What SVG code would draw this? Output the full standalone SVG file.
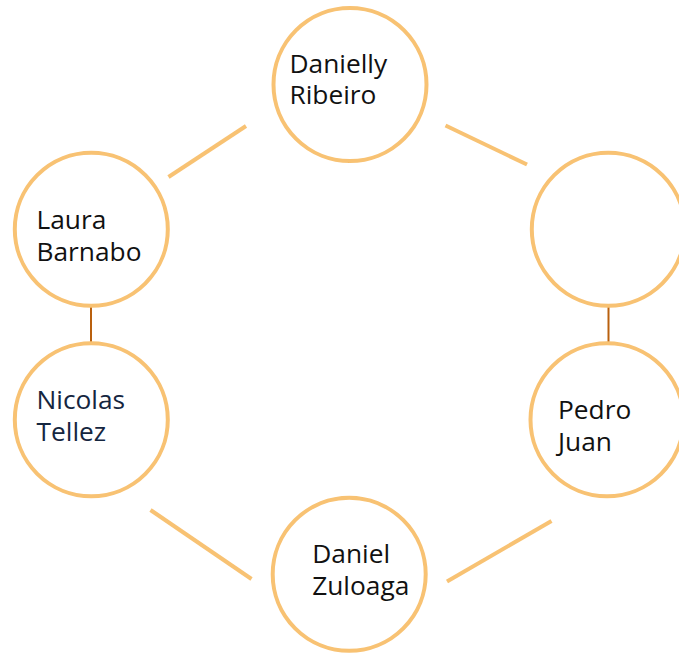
<svg xmlns="http://www.w3.org/2000/svg" width="679" height="654" viewBox="0 0 679 654">
<style>
.node{fill:#ffffff;stroke:#f8c273;stroke-width:4}
.lbl{font-family:"Open Sans","Noto Sans","Liberation Sans",sans-serif;font-size:26.3px;fill:#111111}
.navy{fill:#15263f}
.edge{stroke:#f8c273;stroke-width:4;fill:none}
.link{stroke:#b9600e;stroke-width:2;fill:none}
</style>
<rect width="679" height="654" fill="#ffffff"/>
<g id="connectors">
<line class="edge" x1="246" y1="126" x2="168.5" y2="177"/>
<line class="edge" x1="445.5" y1="125.5" x2="527" y2="164.5"/>
<line class="edge" x1="150.5" y1="510" x2="251.5" y2="579"/>
<line class="edge" x1="447" y1="581.5" x2="551.5" y2="521"/>
<line class="link" x1="91" y1="306" x2="91" y2="343"/>
<line class="link" x1="608.5" y1="306" x2="608.5" y2="343"/>
<line class="link" x1="349" y1="160.5" x2="349" y2="163"/>
</g>
<g id="danielly">
<circle class="node" cx="350" cy="84.5" r="76.5"/>
<text class="lbl" x="289.5" y="72.5">Danielly<tspan x="289.5" y="104">Ribeiro</tspan></text>
</g>
<g id="laura">
<circle class="node" cx="91.3" cy="229.2" r="76.5"/>
<text class="lbl" x="36.5" y="229.3">Laura<tspan x="36.5" y="260.7">Barnabo</tspan></text>
</g>
<g id="nicolas">
<circle class="node" cx="91.3" cy="419.7" r="76.5"/>
<text class="lbl navy" x="36.5" y="409.3">Nicolas<tspan x="36.5" y="441">Tellez</tspan></text>
</g>
<g id="empty">
<circle class="node" cx="608.3" cy="229.2" r="76.5"/>
</g>
<g id="pedro">
<circle class="node" cx="607" cy="419.7" r="76.5"/>
<text class="lbl" x="558" y="419.3">Pedro<tspan x="558" y="451">Juan</tspan></text>
</g>
<g id="daniel">
<circle class="node" cx="349.2" cy="574.3" r="76.5"/>
<text class="lbl" x="312.2" y="563.3">Daniel<tspan x="312.2" y="595.3">Zuloaga</tspan></text>
</g>
</svg>
